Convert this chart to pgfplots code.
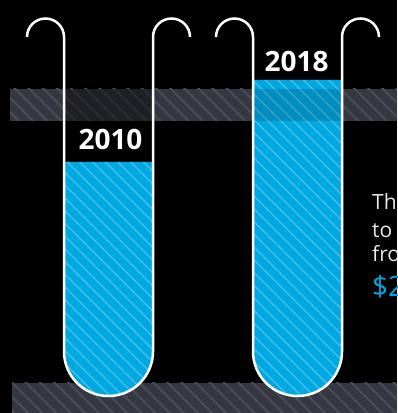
\documentclass[border=0pt]{standalone}
\usepackage{fontspec}
\setmainfont{Open Sans}
\usepackage{pgfplots}
\pgfplotsset{compat=1.18}
\usetikzlibrary{patterns.meta}
\definecolor{tubeblue}{HTML}{00A8E1}
\definecolor{stripeblue}{HTML}{3DBCEA}
\definecolor{bandgray}{HTML}{353843}
\definecolor{bandstripe}{HTML}{4A4D59}
\definecolor{txtgray}{HTML}{E8E8E8}
\begin{document}
\begin{tikzpicture}
\fill[black] (0,0) rectangle (397pt,413pt);
\begin{axis}[hide axis, scale only axis, width=397pt, height=413pt,
  xmin=0, xmax=397, ymin=0, ymax=413, clip=true]
% hatched grey bands
\fill[bandgray, postaction={pattern={Lines[angle=-45,distance=10pt,line width=2pt]}, pattern color=bandstripe}]
  (axis cs:10,292) rectangle (axis cs:397,324);
\fill[bandgray, postaction={pattern={Lines[angle=-45,distance=10pt,line width=2pt]}, pattern color=bandstripe}]
  (axis cs:12,0) rectangle (axis cs:397,30);
% tube 1 glass over the band
\begin{scope}
\clip (axis cs:64,376) -- (axis cs:64,61.5) arc[start angle=180,end angle=360,radius=44.5pt] -- (axis cs:153,376) -- cycle;
\fill[black, opacity=0.42] (axis cs:0,292) rectangle (axis cs:397,324);
\end{scope}
% liquid levels (bars clipped to the tubes)
\begin{scope}
\clip (axis cs:64,376) -- (axis cs:64,61.5) arc[start angle=180,end angle=360,radius=44.5pt] -- (axis cs:153,376) -- cycle
      (axis cs:253,376) -- (axis cs:253,61.5) arc[start angle=180,end angle=360,radius=44.5pt] -- (axis cs:342,376) -- cycle;
\addplot[ybar, bar width=89, fill=tubeblue, draw=none,
  postaction={pattern={Lines[angle=-45,distance=9pt,line width=1.6pt]}, pattern color=stripeblue}]
  coordinates {(108.5,251) (297.5,333)};
\end{scope}
% tube 2 glass over the band
\begin{scope}
\clip (axis cs:253,376) -- (axis cs:253,61.5) arc[start angle=180,end angle=360,radius=44.5pt] -- (axis cs:342,376) -- cycle;
\fill[black, opacity=0.15] (axis cs:0,292) rectangle (axis cs:397,324);
\end{scope}
% tube outlines with hooks
\draw[white, line width=2.5pt] (axis cs:27,376) arc[start angle=180,end angle=0,radius=18.5pt]
  -- (axis cs:64,61.5) arc[start angle=180,end angle=360,radius=44.5pt]
  -- (axis cs:153,376) arc[start angle=180,end angle=0,radius=18.5pt];
\draw[white, line width=2.5pt] (axis cs:216,376) arc[start angle=180,end angle=0,radius=18.5pt]
  -- (axis cs:253,61.5) arc[start angle=180,end angle=360,radius=44.5pt]
  -- (axis cs:342,376) arc[start angle=180,end angle=0,radius=18.5pt];
% year labels
\node[white, anchor=base, inner sep=0, font=\bfseries\fontsize{28}{30}\selectfont] at (axis cs:110.5,263) {2010};
\node[white, anchor=base, inner sep=0, font=\bfseries\fontsize{28}{30}\selectfont] at (axis cs:296.5,341) {2018};
% side text (cut by the right edge, as in the reference)
\node[txtgray, anchor=base west, inner sep=0, font=\fontsize{21}{24}\selectfont] at (axis cs:372,203) {The};
\node[txtgray, anchor=base west, inner sep=0, font=\fontsize{21}{24}\selectfont] at (axis cs:372,175.5) {to};
\node[txtgray, anchor=base west, inner sep=0, font=\fontsize{21}{24}\selectfont] at (axis cs:372,151) {from};
\node[tubeblue, anchor=base west, inner sep=0, font=\fontsize{28}{30}\selectfont] at (axis cs:372,116) {\$2};
\end{axis}
\pgfresetboundingbox
\path[use as bounding box] (0,0) rectangle (397pt,413pt);
\end{tikzpicture}
\end{document}
